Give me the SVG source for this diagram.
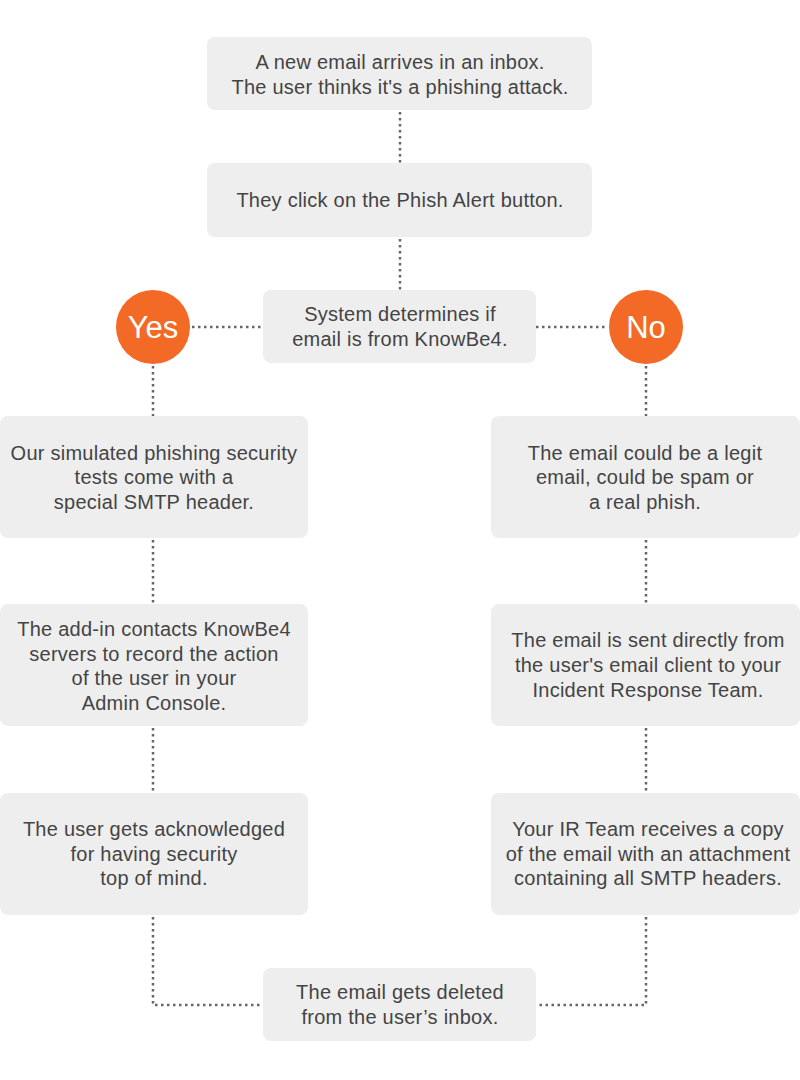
<svg xmlns="http://www.w3.org/2000/svg" width="800" height="1080" viewBox="0 0 800 1080">
<style>
.box{fill:#eeeeee}
.t{font-family:"Liberation Sans",Arial,sans-serif;font-size:20px;letter-spacing:0.25px;fill:#444444;text-anchor:middle}
.c{fill:#f26a25}
.ct{font-family:"Liberation Sans",Arial,sans-serif;font-size:31px;fill:#ffffff;text-anchor:middle}
.dot{fill:none;stroke:#666666;stroke-width:2.5;stroke-dasharray:2.5 3.5}
</style>
<rect width="800" height="1080" fill="#ffffff"/>
<g id="connectors">
<path class="dot" d="M400 112V163"/>
<path class="dot" d="M400 239V290"/>
<path class="dot" d="M192 327H263"/>
<path class="dot" d="M536 327H608"/>
<path class="dot" d="M153 366V416"/>
<path class="dot" d="M646 366V416"/>
<path class="dot" d="M153 540V604"/>
<path class="dot" d="M646 540V604"/>
<path class="dot" d="M153 728V793"/>
<path class="dot" d="M646 728V793"/>
<path class="dot" d="M153 917V1005H263"/>
<path class="dot" d="M646 917V1005H536"/>
</g>
<g id="n1"><rect class="box" x="207" y="37" width="385" height="73" rx="8"/>
<text class="t" x="400" y="69">A new email arrives in an inbox.</text>
<text class="t" x="400" y="94">The user thinks it's a phishing attack.</text></g>
<g id="n2"><rect class="box" x="207" y="163" width="385" height="74" rx="8"/>
<text class="t" x="400" y="207">They click on the Phish Alert button.</text></g>
<g id="n3"><rect class="box" x="263" y="290" width="273" height="73" rx="8"/>
<text class="t" x="400" y="321">System determines if</text>
<text class="t" x="400" y="346">email is from KnowBe4.</text></g>
<g id="yes"><circle class="c" cx="153" cy="327" r="37"/>
<text class="ct" x="153" y="338">Yes</text></g>
<g id="no"><circle class="c" cx="646" cy="327" r="37"/>
<text class="ct" x="646" y="338">No</text></g>
<g id="l1"><rect class="box" x="0" y="416" width="308" height="122" rx="8"/>
<text class="t" x="154" y="460">Our simulated phishing security</text>
<text class="t" x="154" y="484">tests come with a</text>
<text class="t" x="154" y="509">special SMTP header.</text></g>
<g id="l2"><rect class="box" x="0" y="604" width="308" height="122" rx="8"/>
<text class="t" x="154" y="636">The add-in contacts KnowBe4</text>
<text class="t" x="154" y="661">servers to record the action</text>
<text class="t" x="154" y="685">of the user in your</text>
<text class="t" x="154" y="710">Admin Console.</text></g>
<g id="l3"><rect class="box" x="0" y="793" width="308" height="122" rx="8"/>
<text class="t" x="154" y="836">The user gets acknowledged</text>
<text class="t" x="154" y="861">for having security</text>
<text class="t" x="154" y="885">top of mind.</text></g>
<g id="r1"><rect class="box" x="491" y="416" width="309" height="122" rx="8"/>
<text class="t" x="645" y="460">The email could be a legit</text>
<text class="t" x="645" y="484">email, could be spam or</text>
<text class="t" x="645" y="509">a real phish.</text></g>
<g id="r2"><rect class="box" x="491" y="604" width="309" height="122" rx="8"/>
<text class="t" x="648" y="647">The email is sent directly from</text>
<text class="t" x="648" y="672">the user's email client to your</text>
<text class="t" x="648" y="697">Incident Response Team.</text></g>
<g id="r3"><rect class="box" x="491" y="793" width="309" height="122" rx="8"/>
<text class="t" x="648" y="836">Your IR Team receives a copy</text>
<text class="t" x="648" y="861">of the email with an attachment</text>
<text class="t" x="648" y="885">containing all SMTP headers.</text></g>
<g id="n4"><rect class="box" x="263" y="968" width="273" height="73" rx="8"/>
<text class="t" x="400" y="999">The email gets deleted</text>
<text class="t" x="400" y="1024">from the user’s inbox.</text></g>
</svg>
